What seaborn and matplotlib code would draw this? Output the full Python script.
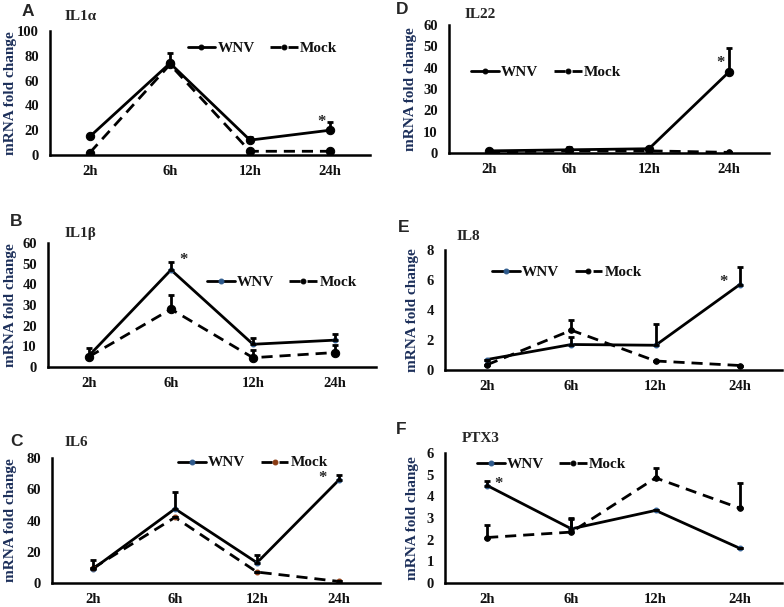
import numpy as np
import matplotlib
matplotlib.use("Agg")
import matplotlib.pyplot as plt
import seaborn as sns

# time points
times = ["2h", "6h", "12h", "24h"]

# IL1a
il1a_wnv = [15, 74, 12, 20]
il1a_wnv_err = [0, 8, 2.5, 7]
il1a_mock = [2, 73, 3, 3]
il1a_mock_err = [0, 0, 0, 0]

# IL1b
il1b_wnv = [5.5, 47, 11, 13]
il1b_wnv_err = [3.5, 4, 3, 3]
il1b_mock = [5, 28, 4.5, 7]
il1b_mock_err = [0, 7, 3.5, 3.5]

# IL6
il6_wnv = [9, 47.5, 13, 66]
il6_wnv_err = [6, 11, 5, 3]
il6_mock = [9.5, 42, 7, 1]
il6_mock_err = [0, 0, 0, 0]

# IL22
il22_wnv = [1, 1.5, 2, 38]
il22_wnv_err = [0, 1.5, 0, 11]
il22_mock = [0.5, 1, 1, 0.3]
il22_mock_err = [0, 0, 0, 0]

# IL8
il8_wnv = [0.7, 1.7, 1.65, 5.7]
il8_wnv_err = [0, 0.5, 1.4, 1.2]
il8_mock = [0.35, 2.65, 0.6, 0.3]
il8_mock_err = [0, 0.7, 0, 0]

# PTX3
ptx3_wnv = [4.5, 2.5, 3.35, 1.6]
ptx3_wnv_err = [0.2, 0.5, 0, 0]
ptx3_mock = [2.1, 2.35, 4.85, 3.45]
ptx3_mock_err = [0.6, 0.6, 0.45, 1.15]

sns.set_style("white")
SERIF = ["Liberation Serif", "DejaVu Serif"]
plt.rcParams["font.family"] = SERIF
plt.rcParams["font.weight"] = "bold"

W, H = 784, 607
fig = plt.figure(figsize=(W / 100, H / 100), dpi=100)

navy = "#1c2f5a"
blue = "#2e5a8c"
brown = "#8a3a12"


def box(l, r, t, b):
    return [l / W, 1 - b / H, (r - l) / W, (b - t) / H]


def panel(rect, letter, lpos, title, tpos, wnv, wnv_err, mock, mock_err,
          ymax, ystep, leg_xy, star_xy, wnv_mk, mock_mk, ylab_x):
    ax = fig.add_axes(rect)
    x = np.arange(len(times))
    wc, wms = wnv_mk
    mc, mms = mock_mk
    sns.lineplot(x=x, y=wnv, ax=ax, color="black", lw=2, marker="o",
                 markersize=wms, markerfacecolor=wc, markeredgecolor=wc,
                 label="WNV")
    sns.lineplot(x=x, y=mock, ax=ax, color="black", lw=2, marker="o",
                 markersize=mms, markerfacecolor=mc, markeredgecolor=mc,
                 label="Mock", dashes=False, linestyle=(0, (4, 2.5)))
    for vals, err in [(wnv, wnv_err), (mock, mock_err)]:
        e = np.array(err)
        ax.errorbar(x, vals, yerr=[np.zeros_like(e), e], fmt="none",
                    ecolor="black", elinewidth=2, capsize=2.5, capthick=2)
    ax.set_xlim(-0.5, 3.5)
    ax.set_ylim(0, ymax)
    ax.set_yticks(np.arange(0, ymax + ystep / 2, ystep))
    ax.set_xticks(x)
    ax.set_xticklabels(times)
    ax.tick_params(length=0)
    ax.tick_params(axis="x", pad=7)
    ax.tick_params(axis="y", pad=8)
    for lab in ax.get_xticklabels() + ax.get_yticklabels():
        lab.set_fontfamily(SERIF)
        lab.set_fontweight("bold")
        lab.set_fontsize(10.5)
        lab.set_color("#111111")
    for s in ["top", "right"]:
        ax.spines[s].set_visible(False)
    for s in ["left", "bottom"]:
        ax.spines[s].set_color("black")
        ax.spines[s].set_linewidth(1.8)
    ax.set_xlabel("")
    ax.set_ylabel("mRNA fold change", color=navy, fontsize=11,
                  fontweight="bold", family=SERIF)
    ax.yaxis.set_label_coords(ylab_x, 0.5)
    leg = ax.legend(loc="center left", bbox_to_anchor=leg_xy, ncol=2,
                    frameon=False, handlelength=2.0, handletextpad=0.15,
                    columnspacing=1.1, borderaxespad=0, borderpad=0)
    for t in leg.get_texts():
        t.set_fontfamily(SERIF)
        t.set_fontweight("bold")
        t.set_fontsize(11)
        t.set_color("#111111")
    for h in leg.legend_handles:
        h.set_markersize(3.5)
    ax.text(star_xy[0], star_xy[1], "*", ha="center", va="center",
            fontsize=12, fontweight="bold", family=SERIF)
    fig.text(lpos[0] / W, 1 - lpos[1] / H, letter, family="Liberation Sans",
             fontweight="bold", fontsize=12.5, ha="left", va="center")
    fig.text(tpos[0] / W, 1 - tpos[1] / H, title, fontweight="bold",
             fontsize=11, ha="left", va="center", family=SERIF)
    return ax


black = ("black", 6)
small_blue = (blue, 3.5)
small_black = ("black", 4)

panel(box(50, 370, 31, 155), "A", (22, 12), "IL1\u03b1", (65, 17),
      il1a_wnv, il1a_wnv_err, il1a_mock, il1a_mock_err, 100, 20,
      (0.43, 0.86), (2.9, 27), black, black, -0.103)
panel(box(48, 376, 243, 367), "B", (10, 222), "IL1\u03b2", (65, 233),
      il1b_wnv, il1b_wnv_err, il1b_mock, il1b_mock_err, 60, 10,
      (0.485, 0.685), (1.15, 52), small_blue, black, -0.095)
panel(box(52, 380, 458, 583), "C", (10, 442), "IL6", (65, 443),
      il6_wnv, il6_wnv_err, il6_mock, il6_mock_err, 80, 20,
      (0.385, 0.96), (2.8, 67), small_blue, (brown, 3.5), -0.107)
panel(box(449, 769, 25, 153), "D", (396, 10), "IL22", (465, 15),
      il22_wnv, il22_wnv_err, il22_mock, il22_mock_err, 60, 10,
      (0.07, 0.63), (2.89, 42), black, small_black, -0.1)
panel(box(445, 782, 250, 370), "E", (398, 228), "IL8", (457, 237),
      il8_wnv, il8_wnv_err, il8_mock, il8_mock_err, 8, 2,
      (0.14, 0.81), (2.8, 5.9), small_blue, small_black, -0.077)
panel(box(445, 782, 453, 583), "F", (396, 430), "PTX3", (462, 438),
      ptx3_wnv, ptx3_wnv_err, ptx3_mock, ptx3_mock_err, 6, 1,
      (0.095, 0.91), (0.14, 4.55), small_blue, small_black, -0.077)

fig.savefig("out.png", dpi=100)
